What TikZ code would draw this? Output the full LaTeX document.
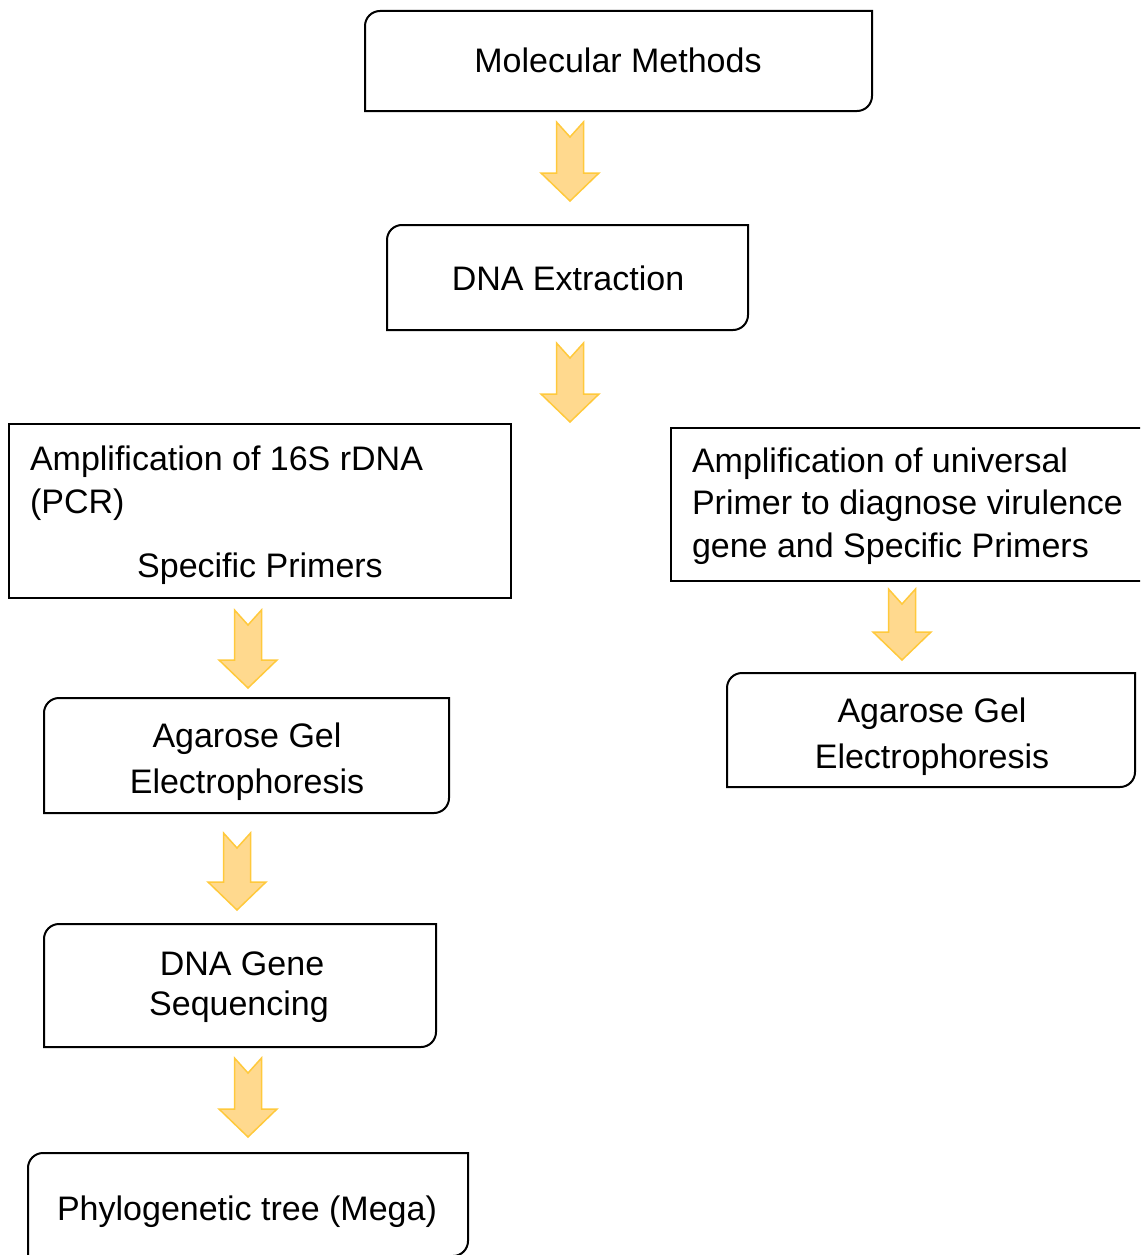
\documentclass[tikz,border=0pt]{standalone}
\usepackage{fontspec}
\setmainfont{Liberation Sans}
\definecolor{arrfill}{HTML}{FFD98E}
\definecolor{arrline}{HTML}{FFC93C}
\newcommand{\roundbox}[1]{%
  \draw[boxline] (#1.south west) -- ([yshift=-15pt]#1.north west)
    arc[start angle=180,end angle=90,radius=15pt] -- (#1.north east)
    -- ([yshift=15pt]#1.south east)
    arc[start angle=0,end angle=-90,radius=15pt] -- cycle;}
\tikzset{
  x=1pt,y=1pt,
  boxline/.style={line width=2pt,draw=black},
  boxarea/.style={rectangle,draw=none,inner sep=0pt,outer sep=0pt},
  label/.style={inner sep=0pt,outer sep=0pt,font=\fontsize{34}{44}\selectfont,anchor=base},
  labelw/.style={label,anchor=base west},
  pics/blockarrow/.style={code={
    \path[fill=arrfill,draw=arrline,line width=1.5pt,line join=miter]
      (-13.5,0) -- (0,-15) -- (13.5,0) -- (13.5,{-(#1-28)}) -- (29,{-(#1-28)})
      -- (0,{-#1}) -- (-29,{-(#1-28)}) -- (-13.5,{-(#1-28)}) -- cycle;}}
}
\begin{document}
\begin{tikzpicture}
\useasboundingbox (0,0) rectangle (1140,-1255);
\clip (0,0) rectangle (1140,-1255);
% boxes
\node[boxarea,minimum width=507pt,minimum height=100pt] (mm) at (618.5,-61) {};
\node[boxarea,minimum width=361pt,minimum height=105pt] (dx) at (567.5,-277.5) {};
\node[boxarea,minimum width=502pt,minimum height=174pt] (amp16) at (260,-511) {};
\node[boxarea,minimum width=479pt,minimum height=153pt] (ampu) at (910.5,-504.5) {};
\node[boxarea,minimum width=408pt,minimum height=114pt] (agr) at (931,-730) {};
\node[boxarea,minimum width=405pt,minimum height=115pt] (agl) at (246.5,-755.5) {};
\node[boxarea,minimum width=392pt,minimum height=123pt] (seq) at (240,-985.5) {};
\node[boxarea,minimum width=440pt,minimum height=103pt] (phy) at (248,-1204.5) {};
\roundbox{mm}
\roundbox{dx}
\draw[boxline] (amp16.south west) rectangle (amp16.north east);
\draw[boxline] (ampu.south west) rectangle (ampu.north east);
\roundbox{agr}
\roundbox{agl}
\roundbox{seq}
\roundbox{phy}
% texts
\node[label] (t1) at (618,-73) {Molecular Methods};
\node[label] (t2) at (568,-290) {DNA Extraction};
\node[labelw] (t3a) at (30,-470) {Amplification of 16S rDNA};
\node[labelw] (t3b) at (30,-513) {(PCR)};
\node[label] (t3c) at (260,-577) {Specific Primers};
\node[labelw] (t4a) at (692,-472) {Amplification of universal};
\node[labelw] (t4b) at (692,-514) {Primer to diagnose virulence};
\node[labelw] (t4c) at (692,-557) {gene and Specific Primers};
\node[label] (t5a) at (932,-722) {Agarose Gel};
\node[label] (t5b) at (932,-768) {Electrophoresis};
\node[label] (t6a) at (247,-747) {Agarose Gel};
\node[label] (t6b) at (247,-793) {Electrophoresis};
\node[label] (t7a) at (242,-975) {DNA Gene};
\node[label] (t7b) at (239,-1015) {Sequencing};
\node[label] (t8) at (247,-1220) {Phylogenetic tree (Mega)};
% arrows
\coordinate (a1) at (570,-122);
\coordinate (a2) at (570,-343);
\coordinate (a3) at (248,-610);
\coordinate (a4) at (237,-833);
\coordinate (a5) at (248,-1058);
\coordinate (a6) at (902,-589);
\pic at (a1) {blockarrow=79};
\pic at (a2) {blockarrow=79};
\pic at (a3) {blockarrow=78};
\pic at (a4) {blockarrow=77};
\pic at (a5) {blockarrow=79};
\pic at (a6) {blockarrow=71};
\end{tikzpicture}
\end{document}
